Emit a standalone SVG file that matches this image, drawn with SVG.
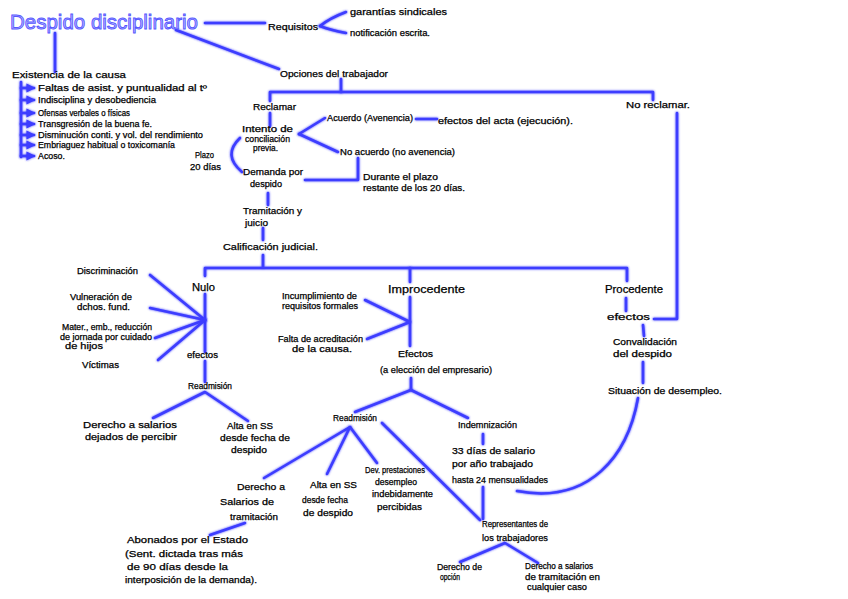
<svg xmlns="http://www.w3.org/2000/svg" width="848" height="599" viewBox="0 0 848 599">
<defs>
<style>
.t{font-family:"Liberation Sans",Arial,sans-serif;font-size:8.5px;fill:#000;stroke:#000;stroke-width:0.25;}
.m{font-size:9px;}
.b{font-size:10.5px;}
.title{font-family:"Liberation Sans",Arial,sans-serif;font-size:21px;fill:#b4b4ff;stroke:#5858ff;stroke-width:0.9;}
.c{fill:none;stroke:#3c3cff;stroke-width:2.6;stroke-linecap:round;stroke-linejoin:round;filter:url(#glow);}
</style>
<filter id="glow" filterUnits="userSpaceOnUse" x="0" y="0" width="848" height="599">
<feGaussianBlur in="SourceGraphic" stdDeviation="1.2" result="b"/>
<feMerge><feMergeNode in="b"/><feMergeNode in="SourceGraphic"/></feMerge>
</filter>
<marker id="ah" viewBox="0 0 6 6" refX="5" refY="3" markerWidth="3.5" markerHeight="3.5" orient="auto">
<path d="M0,0 L6,3 L0,6 Z" fill="#3c3cff"/>
</marker>
</defs>
<rect width="848" height="599" fill="#fff"/>

<g id="connectors">
<path class="c" d="M205,23 L265,23"/>
<path class="c" d="M320,26 Q330,18 346,12"/>
<path class="c" d="M320,26 Q330,30 346,33"/>
<path class="c" d="M176,30 L279,69"/>
<path class="c" d="M55,33 L55,72"/>
<path class="c" d="M21,82 L21,157"/>
<path class="c" d="M21,88 L34,88" marker-end="url(#ah)"/>
<path class="c" d="M21,100 L34,100" marker-end="url(#ah)"/>
<path class="c" d="M21,113 L34,113" marker-end="url(#ah)"/>
<path class="c" d="M21,124 L34,124" marker-end="url(#ah)"/>
<path class="c" d="M21,135 L34,135" marker-end="url(#ah)"/>
<path class="c" d="M21,145 L34,145" marker-end="url(#ah)"/>
<path class="c" d="M21,156 L34,156" marker-end="url(#ah)"/>
<path class="c" d="M341,79 L341,92"/>
<path class="c" d="M270,101 L270,92 L653,92 L653,100"/>
<path class="c" d="M677,113 L677,319 L654,319"/>
<path class="c" d="M270,113 L270,126"/>
<path class="c" d="M299,134 L325,118"/>
<path class="c" d="M299,134 L338,152"/>
<path class="c" d="M416,119 L437,119"/>
<path class="c" d="M358,158 L358,180 L305,180"/>
<path class="c" d="M240,138 Q222,155 242,172"/>
<path class="c" d="M268,193 L268,205"/>
<path class="c" d="M263,228 L263,240"/>
<path class="c" d="M263,255 L263,267"/>
<path class="c" d="M205,276 L205,268 L627,268 L627,281"/>
<path class="c" d="M410,268 L410,282"/>
<path class="c" d="M205,294 L205,352"/>
<path class="c" d="M205,361 L205,382"/>
<path class="c" d="M150,275 L205,320"/>
<path class="c" d="M150,308 L205,320"/>
<path class="c" d="M155,338 L205,320"/>
<path class="c" d="M158,360 L205,320"/>
<path class="c" d="M153,418 L205,392 L248,421"/>
<path class="c" d="M410,297 L410,346"/>
<path class="c" d="M365,300 L410,322 L367,339"/>
<path class="c" d="M411,378 L411,390"/>
<path class="c" d="M355,412 L411,390 L468,418"/>
<path class="c" d="M483,434 L483,444"/>
<path class="c" d="M483,487 L483,519"/>
<path class="c" d="M264,478 L350,427 L327,474"/>
<path class="c" d="M350,427 L377,463"/>
<path class="c" d="M382,423 L480,520"/>
<path class="c" d="M245,523 L210,535"/>
<path class="c" d="M460,562 L505,543 L538,563"/>
<path class="c" d="M626,298 L626,311"/>
<path class="c" d="M643,325 L644,336"/>
<path class="c" d="M643,362 L643,383"/>
<path class="c" d="M638,398 C628,455 590,505 517,491"/>
</g>

<g id="n-title"><text class="title" x="10" y="29" textLength="188" lengthAdjust="spacingAndGlyphs">Despido disciplinario</text></g>
<g id="n-requisitos"><text class="t m" x="268" y="30" textLength="50" lengthAdjust="spacingAndGlyphs">Requisitos</text></g>
<g id="n-garantias"><text class="t" x="350" y="15" textLength="97" lengthAdjust="spacingAndGlyphs">garantías sindicales</text></g>
<g id="n-notificacion"><text class="t" x="350" y="36" textLength="80" lengthAdjust="spacingAndGlyphs">notificación escrita.</text></g>
<g id="n-opciones"><text class="t m" x="280" y="77" textLength="108" lengthAdjust="spacingAndGlyphs">Opciones del trabajador</text></g>
<g id="n-existencia"><text class="t m" x="12" y="78" textLength="114" lengthAdjust="spacingAndGlyphs">Existencia de la causa</text></g>
<g id="n-causas">
<text class="t" x="38" y="91" textLength="169" lengthAdjust="spacingAndGlyphs">Faltas de asist. y puntualidad al tº</text>
<text class="t" x="38" y="103" textLength="118" lengthAdjust="spacingAndGlyphs">Indisciplina y desobediencia</text>
<text class="t" x="38" y="116" textLength="92" lengthAdjust="spacingAndGlyphs">Ofensas verbales o físicas</text>
<text class="t" x="38" y="127" textLength="114" lengthAdjust="spacingAndGlyphs">Transgresión de la buena fe.</text>
<text class="t" x="38" y="138" textLength="165" lengthAdjust="spacingAndGlyphs">Disminución conti. y vol. del rendimiento</text>
<text class="t" x="38" y="148" textLength="137" lengthAdjust="spacingAndGlyphs">Embriaguez habitual o toxicomanía</text>
<text class="t" x="38" y="159" textLength="27" lengthAdjust="spacingAndGlyphs">Acoso.</text>
</g>
<g id="n-reclamar"><text class="t m" x="253" y="110" textLength="43" lengthAdjust="spacingAndGlyphs">Reclamar</text></g>
<g id="n-noreclamar"><text class="t m" x="626" y="108" textLength="64" lengthAdjust="spacingAndGlyphs">No reclamar.</text></g>
<g id="n-intento"><text class="t" x="242" y="132" textLength="51" lengthAdjust="spacingAndGlyphs">Intento de</text><text class="t" x="245" y="142" textLength="45" lengthAdjust="spacingAndGlyphs">conciliación</text><text class="t" x="253" y="151" textLength="25" lengthAdjust="spacingAndGlyphs">previa.</text></g>
<g id="n-acuerdo"><text class="t" x="327" y="121" textLength="86" lengthAdjust="spacingAndGlyphs">Acuerdo (Avenencia)</text></g>
<g id="n-efectosacta"><text class="t" x="438" y="124" textLength="135" lengthAdjust="spacingAndGlyphs">efectos del acta (ejecución).</text></g>
<g id="n-noacuerdo"><text class="t" x="340" y="155" textLength="115" lengthAdjust="spacingAndGlyphs">No acuerdo (no avenencia)</text></g>
<g id="n-plazo"><text class="t" x="195" y="158" textLength="19" lengthAdjust="spacingAndGlyphs">Plazo</text><text class="t" x="190" y="170" textLength="31" lengthAdjust="spacingAndGlyphs">20 días</text></g>
<g id="n-demanda"><text class="t" x="243" y="175" textLength="60" lengthAdjust="spacingAndGlyphs">Demanda por</text><text class="t" x="250" y="187" textLength="32" lengthAdjust="spacingAndGlyphs">despido</text></g>
<g id="n-durante"><text class="t" x="363" y="180" textLength="75" lengthAdjust="spacingAndGlyphs">Durante el plazo</text><text class="t" x="363" y="191" textLength="102" lengthAdjust="spacingAndGlyphs">restante de los 20 días.</text></g>
<g id="n-tramitacion"><text class="t m" x="243" y="214" textLength="59" lengthAdjust="spacingAndGlyphs">Tramitación y</text><text class="t m" x="245" y="226" textLength="23" lengthAdjust="spacingAndGlyphs">juicio</text></g>
<g id="n-calificacion"><text class="t m" x="223" y="250" textLength="95" lengthAdjust="spacingAndGlyphs">Calificación judicial.</text></g>
<g id="n-nulo"><text class="t b" x="192" y="291" textLength="23" lengthAdjust="spacingAndGlyphs">Nulo</text></g>
<g id="n-discriminacion"><text class="t" x="77" y="274" textLength="61" lengthAdjust="spacingAndGlyphs">Discriminación</text></g>
<g id="n-vulneracion"><text class="t" x="70" y="300" textLength="62" lengthAdjust="spacingAndGlyphs">Vulneración de</text><text class="t" x="77" y="310" textLength="53" lengthAdjust="spacingAndGlyphs">dchos. fund.</text></g>
<g id="n-mater"><text class="t" x="62" y="330" textLength="90" lengthAdjust="spacingAndGlyphs">Mater., emb., reducción</text><text class="t" x="60" y="340" textLength="92" lengthAdjust="spacingAndGlyphs">de jornada por cuidado</text><text class="t" x="65" y="349" textLength="38" lengthAdjust="spacingAndGlyphs">de hijos</text></g>
<g id="n-victimas"><text class="t" x="82" y="368" textLength="37" lengthAdjust="spacingAndGlyphs">Víctimas</text></g>
<g id="n-efectos-nulo"><text class="t" x="187" y="358" textLength="31" lengthAdjust="spacingAndGlyphs">efectos</text></g>
<g id="n-readmision-nulo"><text class="t" x="188" y="389" textLength="44" lengthAdjust="spacingAndGlyphs">Readmisión</text></g>
<g id="n-derecho-salarios"><text class="t" x="83" y="428" textLength="94" lengthAdjust="spacingAndGlyphs">Derecho a salarios</text><text class="t" x="85" y="440" textLength="92" lengthAdjust="spacingAndGlyphs">dejados de percibir</text></g>
<g id="n-alta-nulo"><text class="t" x="227" y="429" textLength="46" lengthAdjust="spacingAndGlyphs">Alta en SS</text><text class="t" x="220" y="441" textLength="70" lengthAdjust="spacingAndGlyphs">desde fecha de</text><text class="t" x="231" y="453" textLength="36" lengthAdjust="spacingAndGlyphs">despido</text></g>
<g id="n-improcedente"><text class="t b" x="388" y="293" textLength="77" lengthAdjust="spacingAndGlyphs">Improcedente</text></g>
<g id="n-incumplimiento"><text class="t" x="282" y="299" textLength="75" lengthAdjust="spacingAndGlyphs">Incumplimiento de</text><text class="t" x="282" y="309" textLength="76" lengthAdjust="spacingAndGlyphs">requisitos formales</text></g>
<g id="n-falta"><text class="t" x="278" y="342" textLength="85" lengthAdjust="spacingAndGlyphs">Falta de acreditación</text><text class="t" x="292" y="352" textLength="60" lengthAdjust="spacingAndGlyphs">de la causa.</text></g>
<g id="n-efectos-imp"><text class="t" x="398" y="357" textLength="35" lengthAdjust="spacingAndGlyphs">Efectos</text><text class="t" x="380" y="373" textLength="112" lengthAdjust="spacingAndGlyphs">(a elección del empresario)</text></g>
<g id="n-readmision-imp"><text class="t" x="333" y="421" textLength="44" lengthAdjust="spacingAndGlyphs">Readmisión</text></g>
<g id="n-indemnizacion"><text class="t" x="458" y="428" textLength="59" lengthAdjust="spacingAndGlyphs">Indemnización</text></g>
<g id="n-33dias"><text class="t" x="452" y="454" textLength="83" lengthAdjust="spacingAndGlyphs">33 días de salario</text><text class="t" x="452" y="467" textLength="81" lengthAdjust="spacingAndGlyphs">por año trabajado</text><text class="t" x="452" y="483" textLength="96" lengthAdjust="spacingAndGlyphs">hasta 24 mensualidades</text></g>
<g id="n-derecho-tramitacion"><text class="t" x="237" y="490" textLength="48" lengthAdjust="spacingAndGlyphs">Derecho a</text><text class="t" x="220" y="505" textLength="54" lengthAdjust="spacingAndGlyphs">Salarios de</text><text class="t" x="230" y="520" textLength="48" lengthAdjust="spacingAndGlyphs">tramitación</text></g>
<g id="n-alta-imp"><text class="t" x="310" y="488" textLength="47" lengthAdjust="spacingAndGlyphs">Alta en SS</text><text class="t" x="302" y="503" textLength="46" lengthAdjust="spacingAndGlyphs">desde fecha</text><text class="t" x="303" y="516" textLength="50" lengthAdjust="spacingAndGlyphs">de despido</text></g>
<g id="n-dev"><text class="t" x="365" y="473" textLength="60" lengthAdjust="spacingAndGlyphs">Dev. prestaciones</text><text class="t" x="375" y="485" textLength="42" lengthAdjust="spacingAndGlyphs">desempleo</text><text class="t" x="372" y="497" textLength="61" lengthAdjust="spacingAndGlyphs">indebidamente</text><text class="t" x="377" y="510" textLength="45" lengthAdjust="spacingAndGlyphs">percibidas</text></g>
<g id="n-abonados"><text class="t" x="127" y="543" textLength="121" lengthAdjust="spacingAndGlyphs">Abonados por el Estado</text><text class="t" x="125" y="557" textLength="118" lengthAdjust="spacingAndGlyphs">(Sent. dictada tras más</text><text class="t" x="127" y="570" textLength="101" lengthAdjust="spacingAndGlyphs">de 90 días desde la</text><text class="t" x="125" y="583" textLength="132" lengthAdjust="spacingAndGlyphs">interposición de la demanda).</text></g>
<g id="n-representantes"><text class="t" x="482" y="527" textLength="66" lengthAdjust="spacingAndGlyphs">Representantes de</text><text class="t" x="482" y="541" textLength="66" lengthAdjust="spacingAndGlyphs">los trabajadores</text></g>
<g id="n-opcion"><text class="t" x="437" y="570" textLength="45" lengthAdjust="spacingAndGlyphs">Derecho de</text><text class="t" x="440" y="580" textLength="20" lengthAdjust="spacingAndGlyphs">opción</text></g>
<g id="n-salarios-cualquier"><text class="t" x="525" y="569" textLength="68" lengthAdjust="spacingAndGlyphs">Derecho a salarios</text><text class="t" x="525" y="580" textLength="75" lengthAdjust="spacingAndGlyphs">de tramitación en</text><text class="t" x="527" y="590" textLength="60" lengthAdjust="spacingAndGlyphs">cualquier caso</text></g>
<g id="n-procedente"><text class="t b" x="605" y="293" textLength="58" lengthAdjust="spacingAndGlyphs">Procedente</text></g>
<g id="n-efectos-proc"><text class="t m" x="607" y="320" textLength="43" lengthAdjust="spacingAndGlyphs">efectos</text></g>
<g id="n-convalidacion"><text class="t" x="613" y="345" textLength="64" lengthAdjust="spacingAndGlyphs">Convalidación</text><text class="t" x="613" y="357" textLength="59" lengthAdjust="spacingAndGlyphs">del despido</text></g>
<g id="n-situacion"><text class="t" x="608" y="394" textLength="114" lengthAdjust="spacingAndGlyphs">Situación de desempleo.</text></g>
</svg>
